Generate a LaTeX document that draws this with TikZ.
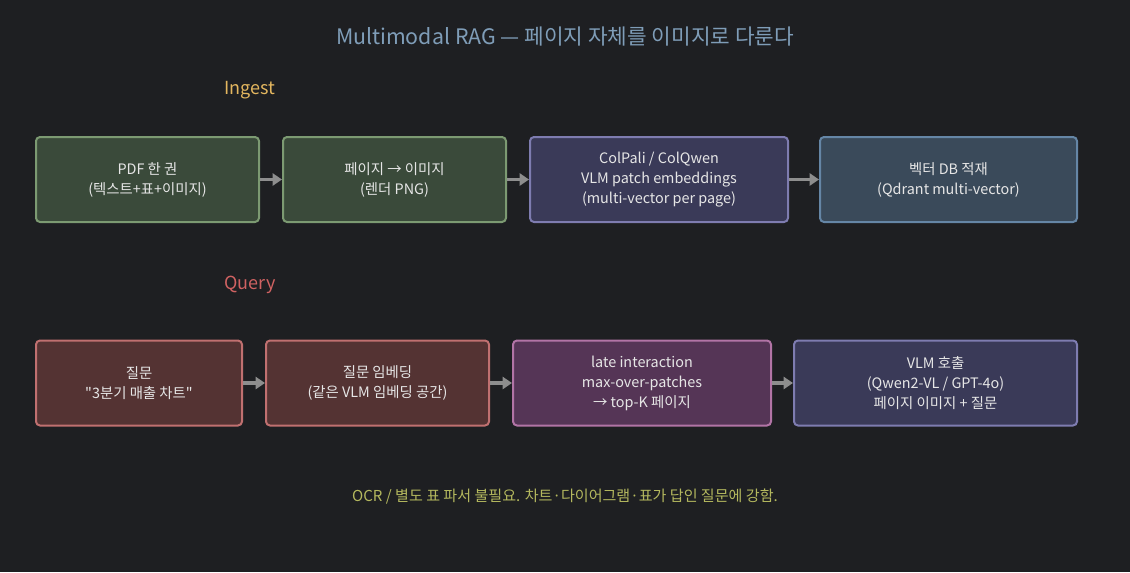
\documentclass[tikz,border=0pt]{standalone}
\usepackage{fontspec}
\setmainfont{Noto Sans CJK KR}[Ligatures=TeXOff]
\usepackage{xcolor}
\usepackage{tikz}
\usetikzlibrary{arrows.meta,positioning}

\definecolor{bgdark}{HTML}{1E1F22}
\definecolor{txtlight}{HTML}{E6E6E6}
\definecolor{titleblue}{HTML}{7F9DB8}
\definecolor{ingestyel}{HTML}{E3B65F}
\definecolor{queryred}{HTML}{D06262}
\definecolor{notegreen}{HTML}{B4B85E}
\definecolor{arrgray}{HTML}{8E8E8E}
\definecolor{greenline}{HTML}{7C9A72}
\definecolor{greenfill}{HTML}{3A4A3A}
\definecolor{violetline}{HTML}{7E7CB0}
\definecolor{violetfill}{HTML}{3A3A58}
\definecolor{steelline}{HTML}{6586A6}
\definecolor{steelfill}{HTML}{3A4A5A}
\definecolor{redline}{HTML}{C07070}
\definecolor{redfill}{HTML}{543333}
\definecolor{plumline}{HTML}{B274A6}
\definecolor{plumfill}{HTML}{553556}

\begin{document}
\begin{tikzpicture}[
  x=0.75pt, y=-0.75pt,
  stage/.style 2 args={rectangle, draw=#1, fill=#2, rounded corners=3pt,
                line width=1.5pt, minimum height=63.75pt,
                text centered, align=center, font=\fontsize{10.8}{15}\selectfont,
                text=txtlight, inner sep=3pt},
  arrow/.style={-{Triangle[length=7pt,width=9pt]}, line width=2.3pt, color=arrgray},
  node distance=16.5pt
]
  % canvas
  \fill[bgdark] (0,0) rectangle (1130,572);
  \useasboundingbox (0,0) rectangle (1130,572);

  % Title and row labels
  \node[font=\fontsize{16}{19}\selectfont, text=titleblue] (title) at (565,37)
    {Multimodal RAG — 페이지 자체를 이미지로 다룬다};
  \node[font=\fontsize{13.5}{16}\selectfont, text=ingestyel] (ingest) at (250,90) {Ingest};
  \node[font=\fontsize{13.5}{16}\selectfont, text=queryred] (query) at (250,285) {Query};

  % Ingest row
  \node[stage={greenline}{greenfill}, minimum width=167.25pt, anchor=west] (pdf) at (35,179.5)
    {PDF 한 권\\(텍스트+표+이미지)};
  \node[stage={greenline}{greenfill}, minimum width=167.25pt, right=of pdf] (render)
    {페이지 → 이미지\\(렌더 PNG)};
  \node[stage={violetline}{violetfill}, minimum width=193.5pt, right=of render] (colpali)
    {ColPali / ColQwen\\VLM patch embeddings\\(multi-vector per page)};
  \node[stage={steelline}{steelfill}, minimum width=192.75pt, right=22.5pt of colpali] (vecdb)
    {벡터 DB 적재\\(Qdrant multi-vector)};

  \draw[arrow] (pdf) -- (render);
  \draw[arrow] (render) -- (colpali);
  \draw[arrow] (colpali) -- (vecdb);

  % Query row
  \node[stage={redline}{redfill}, minimum width=154.5pt, anchor=west] (question) at (35,383)
    {질문\\"3분기 매출 차트"};
  \node[stage={redline}{redfill}, minimum width=167.25pt, right=of question] (qembed)
    {질문 임베딩\\(같은 VLM 임베딩 공간)};
  \node[stage={plumline}{plumfill}, minimum width=193.5pt, right=of qembed] (late)
    {late interaction\\max-over-patches\\→ top-K 페이지};
  \node[stage={violetline}{violetfill}, minimum width=212.25pt, right=15.75pt of late] (vlm)
    {VLM 호출\\(Qwen2-VL / GPT-4o)\\페이지 이미지 + 질문};

  \draw[arrow] (question) -- (qembed);
  \draw[arrow] (qembed) -- (late);
  \draw[arrow] (late) -- (vlm);

  % Note
  \node[font=\fontsize{11.3}{14}\selectfont, text=notegreen] (note) at (565,497)
    {OCR / 별도 표 파서 불필요. 차트·다이어그램·표가 답인 질문에 강함.};
\end{tikzpicture}
\end{document}
